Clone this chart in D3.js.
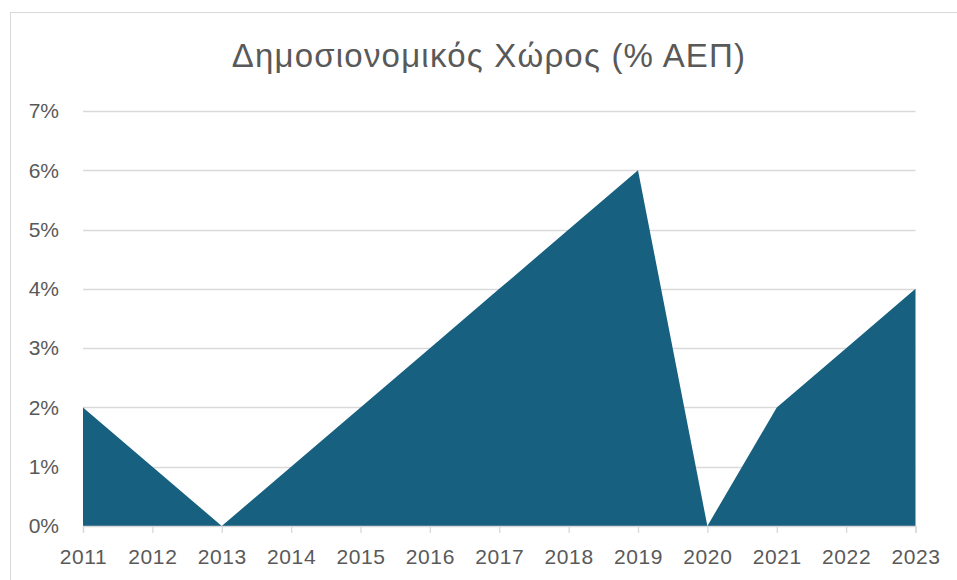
<!DOCTYPE html>
<html>
<head>
<meta charset="utf-8">
<script src="https://cdn.jsdelivr.net/npm/d3@7"></script>
<style>
  body { margin: 0; background: #fff; }
  text { font-family: "Liberation Sans", Arial, sans-serif; }
</style>
</head>
<body>
<svg id="chart" width="957" height="580"></svg>
<script>
// data
var years = [2011, 2012, 2013, 2014, 2015, 2016, 2017, 2018, 2019, 2020, 2021, 2022, 2023];
var values = [2, 1, 0, 1, 2, 3, 4, 5, 6, 0, 2, 3, 4];
var yTicks = [0, 1, 2, 3, 4, 5, 6, 7];
var title = "Δημοσιονομικός Χώρος (% ΑΕΠ)";

var svg = d3.select("#chart");

// chart border
svg.append("rect")
    .attr("x", 10.5).attr("y", 12.5)
    .attr("width", 1000).attr("height", 1000)
    .attr("fill", "none")
    .attr("stroke", "#d9d9d9");

var margin = {top: 111, left: 83},
    width = 915.5 - 83,
    height = 526 - 111;

var x = d3.scalePoint()
    .domain(years)
    .range([0, width]);
var y = d3.scaleLinear()
    .domain([0, 7])
    .range([height, 0]);

var g = svg.append("g")
    .attr("transform", "translate(" + margin.left + "," + margin.top + ")");

// gridlines
g.append("g")
    .selectAll("line")
    .data(yTicks.slice(1))
  .enter().append("line")
    .attr("x1", 0).attr("x2", width)
    .attr("y1", function(d) { return Math.round(y(d)) + 0.5; })
    .attr("y2", function(d) { return Math.round(y(d)) + 0.5; })
    .attr("stroke", "#d9d9d9")
    .attr("stroke-width", 1.3);

// area
var area = d3.area()
    .x(function(d, i) { return x(years[i]); })
    .y0(height)
    .y1(function(d) { return y(d); });

g.append("path")
    .datum(values)
    .attr("fill", "#17607f")
    .attr("d", area);

// x axis
var xAxis = g.append("g")
    .attr("transform", "translate(0," + height + ")")
    .call(d3.axisBottom(x).tickSize(7).tickPadding(16));
xAxis.select(".domain").attr("stroke", "#d9d9d9").attr("stroke-width", 1.3);
xAxis.selectAll(".tick line").attr("stroke", "#d9d9d9").attr("stroke-width", 1.3);
xAxis.selectAll(".tick text")
    .attr("fill", "#595959")
    .style("font-size", "21px")
    .style("letter-spacing", "0.6px")
    .style("font-family", "'Liberation Sans', Arial, sans-serif");

// y axis
var yAxis = g.append("g")
    .attr("transform", "translate(-24,0)")
    .call(d3.axisLeft(y).tickValues(yTicks).tickSize(0)
        .tickFormat(function(d) { return d + "%"; }));
yAxis.select(".domain").remove();
yAxis.selectAll(".tick text")
    .attr("fill", "#595959")
    .attr("x", 0)
    .style("font-size", "21px")
    .style("font-family", "'Liberation Sans', Arial, sans-serif");

// title
svg.append("text")
    .attr("x", 489)
    .attr("y", 67)
    .attr("text-anchor", "middle")
    .attr("fill", "#595959")
    .style("font-size", "33px")
    .style("letter-spacing", "1.2px")
    .text(title);
</script>
</body>
</html>
